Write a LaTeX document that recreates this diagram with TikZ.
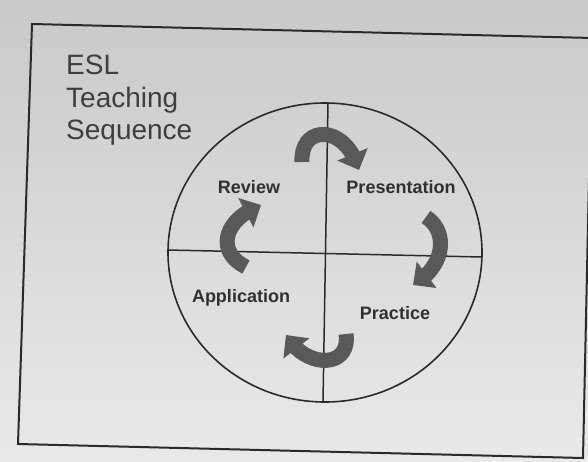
\documentclass[tikz,border=0pt]{standalone}
\usepackage{fontspec}
\setmainfont{Liberation Sans}
\usetikzlibrary{arrows.meta,bending}
\definecolor{bgtop}{HTML}{C9C9C9}
\definecolor{bgbot}{HTML}{E9E9E9}
\definecolor{ink}{HTML}{2A2A2A}
\definecolor{txt}{HTML}{303030}
\definecolor{ttl}{HTML}{3E3E3E}
\definecolor{arrowgray}{HTML}{595959}
\tikzset{
  frameline/.style={draw=ink, line width=2pt},
  circline/.style={draw=ink, line width=1.6pt},
  crossline/.style={draw=ink, line width=1.5pt},
  titletext/.style={anchor=base west, inner sep=0pt, text=ttl, font=\fontsize{28}{32}\selectfont},
  labeltext/.style={inner sep=0pt, text=txt, font=\bfseries\fontsize{18}{20}\selectfont},
  cyclearrow/.style={draw=arrowgray, line width=15pt, line cap=butt,
    -{Triangle[width=32pt,length=17pt]}}
}
\begin{document}
\begin{tikzpicture}[x=1pt,y=-1pt]
\useasboundingbox (0,0) rectangle (588,462);
\shade[top color=bgtop, bottom color=bgbot] (0,0) rectangle (588,462);
% frame (slightly rotated photocopy)
\draw[frameline] (32,24) -- (592,38) -- (583,458) -- (18,444) -- cycle;
% title
\node[titletext] (t1) at (66,75) {ESL};
\node[titletext] (t2) at (66,108) {Teaching};
\node[titletext] (t3) at (66,140) {Sequence};
% circle and cross
\coordinate (c) at (325,252.5);
\draw[circline] (c) ellipse [x radius=157, y radius=149.5];
\coordinate (hl) at (168,250);
\coordinate (hr) at (482,257);
\coordinate (vt) at (328,103);
\coordinate (vb) at (323,402);
\draw[crossline] (hl) -- (hr);
\draw[crossline] (vt) -- (vb);
% labels
\node[labeltext] (rev) at (249,187) {Review};
\node[labeltext] (pres) at (401,187) {Presentation};
\node[labeltext] (app) at (241,298) {Application};
\node[labeltext] (prac) at (395,313) {Practice};
% cycle arrows
\draw[cyclearrow] (302,162) .. controls (300,124) and (346,124) .. (359,170);
\draw[cyclearrow] (426,217) .. controls (448,231) and (446,266) .. (413,285);
\draw[cyclearrow] (346,334) .. controls (351,369) and (305,369) .. (286,335);
\draw[cyclearrow] (246,267) .. controls (217,253) and (221,221) .. (261,205);
\end{tikzpicture}
\end{document}
